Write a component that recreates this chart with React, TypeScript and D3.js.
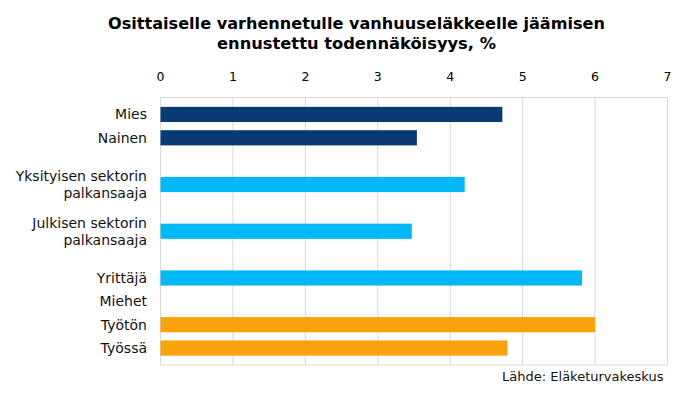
import React from 'react';
import * as d3 from 'd3';

// tiedot (blank rows are spacers, as in the source spreadsheet)
const categories = [
  'Mies',
  'Nainen',
  '',
  'Yksityisen sektorin|palkansaaja',
  '',
  'Julkisen sektorin|palkansaaja',
  '',
  'Yrittäjä',
  'Miehet',
  'Työtön',
  'Työssä',
];
const values = [4.72, 3.54, null, 4.2, null, 3.47, null, 5.82, null, 6.0, 4.79];
const groups = ['sukupuoli', 'sukupuoli', '', 'sektori', '', 'sektori', '', 'sektori', '', 'miehet', 'miehet'];
const xTicks = [0, 1, 2, 3, 4, 5, 6, 7];

const titleLines = [
  'Osittaiselle varhennetulle vanhuuseläkkeelle jäämisen',
  'ennustettu todennäköisyys, %',
];
const titleWidths = [497, 279];
const source = 'Lähde: Eläketurvakeskus';

const colors: Record<string, string> = {
  sukupuoli: '#083b72',
  sektori: '#02b9f7',
  miehet: '#f9a20b',
};

export default function App() {
  const width = 698;
  const height = 394;
  const left = 160.5;
  const right = 667.5;
  const top = 97.5;
  const bottom = 365;

  const x = d3.scaleLinear().domain([0, 7]).range([left, right]);
  const y = d3
    .scaleBand<number>()
    .domain(categories.map((_, i) => i))
    .range([top, bottom])
    .paddingInner(0.35)
    .paddingOuter(0.4);

  const font = 'DejaVu Sans, Verdana, sans-serif';

  return (
    <svg
      width={width}
      height={height}
      style={{ position: 'absolute', left: 0, top: 0, background: '#fff' }}
      fontFamily={font}
    >
      {/* otsikko */}
      {titleLines.map((l, i) => (
        <text
          key={i}
          x={356.5}
          y={28.5 + i * 20.5}
          textAnchor="middle"
          fontWeight="bold"
          fontSize={15}
          fill="#000"
          textLength={titleWidths[i]}
          lengthAdjust="spacingAndGlyphs"
        >
          {l}
        </text>
      ))}

      {/* ruudukko */}
      {xTicks.map((t) => (
        <g key={t}>
          <line x1={x(t)} x2={x(t)} y1={top} y2={bottom} stroke="#d9d9d9" strokeWidth={1} />
          <text x={x(t)} y={81} textAnchor="middle" fontSize={12.5} fill="#000">
            {t}
          </text>
        </g>
      ))}
      <line x1={left} x2={right} y1={top} y2={top} stroke="#d9d9d9" />
      <line x1={left} x2={right} y1={bottom} y2={bottom} stroke="#d9d9d9" />

      {/* palkit */}
      {values.map((v, i) =>
        v == null ? null : (
          <rect
            key={i}
            x={x(0)}
            y={y(i)}
            width={x(v) - x(0)}
            height={y.bandwidth()}
            fill={colors[groups[i]]}
          />
        )
      )}

      {/* luokat */}
      {categories.map((c, i) => {
        if (!c) return null;
        const lines = c.split('|');
        const cy = (y(i) as number) + y.bandwidth() / 2;
        const lh = 16.5;
        return (
          <text key={i} textAnchor="end" fontSize={14} fill="#111">
            {lines.map((l, j) => (
              <tspan key={j} x={147} y={cy + 5 + (j - (lines.length - 1) / 2) * lh}>
                {l}
              </tspan>
            ))}
          </text>
        );
      })}

      <text x={663.5} y={381} textAnchor="end" fontSize={13} fill="#111">
        {source}
      </text>
    </svg>
  );
}
